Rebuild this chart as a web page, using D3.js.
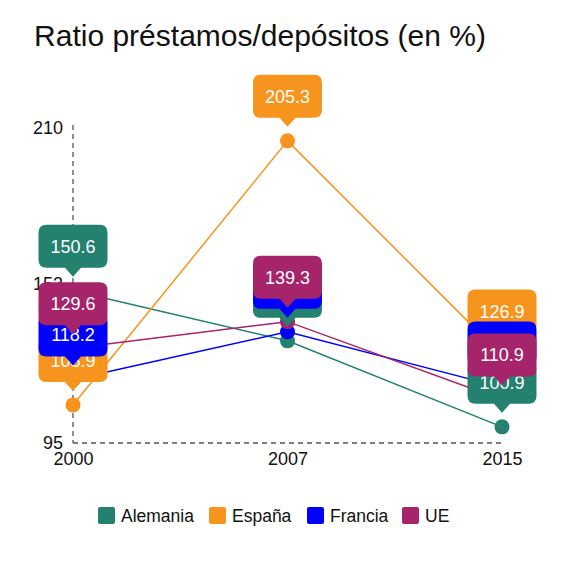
<!DOCTYPE html>
<html><head><meta charset="utf-8">
<script src="https://cdn.jsdelivr.net/npm/d3@7"></script>
<style>body{margin:0;background:#fff;font-family:"Liberation Sans",Arial,sans-serif;}</style>
</head><body>
<svg id="c" width="566" height="570"></svg>
<script>
const years = ["2000", "2007", "2015"];
const seriesNames = ["Alemania", "España", "Francia", "UE"];
const colors = ["#24806f", "#f7941d", "#0000ff", "#a6246a"];
const alemania = [150.6, 132.3, 100.9];
const espana = [108.9, 205.3, 126.9];
const francia = [118.2, 135.6, 115.3];
const ue = [129.6, 139.3, 110.9];
const yTicks = [95, 153, 210];
const title = "Ratio préstamos/depósitos (en %)";

const series = [alemania, espana, francia, ue].map((v, i) => ({name: seriesNames[i], color: colors[i], values: v}));

const svg = d3.select("#c");
const x = d3.scalePoint().domain(years).range([73, 502]);
const y = d3.scaleLinear().domain([95, 210]).range([443, 128]);

svg.append("text").attr("x", 260).attr("y", 46).attr("text-anchor", "middle")
  .attr("font-size", 30).attr("fill", "#111").text(title);

// axes
svg.append("line").attr("x1", x("2000")).attr("x2", x("2000")).attr("y1", y(210) - 3).attr("y2", y(95))
  .attr("stroke", "#555").attr("stroke-dasharray", "5,4").attr("stroke-width", 1.3);
svg.append("line").attr("x1", x("2000")).attr("x2", x("2015")).attr("y1", y(95)).attr("y2", y(95))
  .attr("stroke", "#555").attr("stroke-dasharray", "5,4").attr("stroke-width", 1.3);

const yAxis = svg.append("g").attr("transform", `translate(${x("2000")},0)`)
  .call(d3.axisLeft(y).tickValues(yTicks).tickSize(0).tickPadding(10));
yAxis.select(".domain").remove();
yAxis.selectAll("text").attr("font-size", 18).attr("fill", "#111").attr("font-family", "Liberation Sans, Arial, sans-serif");

const xAxis = svg.append("g").attr("transform", `translate(0,${y(95)})`)
  .call(d3.axisBottom(x).tickSize(0).tickPadding(9));
xAxis.select(".domain").remove();
xAxis.selectAll("text").attr("font-size", 18).attr("fill", "#111").attr("font-family", "Liberation Sans, Arial, sans-serif");

const line = d3.line().x((d, i) => x(years[i])).y(d => y(d));
series.forEach(s => {
  svg.append("path").datum(s.values).attr("d", line).attr("fill", "none")
    .attr("stroke", s.color).attr("stroke-width", 1.5);
});
series.forEach(s => {
  svg.selectAll(null).data(s.values).enter().append("circle")
    .attr("cx", (d, i) => x(years[i])).attr("cy", d => y(d)).attr("r", 7.5).attr("fill", s.color);
});

// labels
const bw = 69, bh = 43, pw = 8, ph = 9, gap = 14, r = 8;
function bubble(cx, tipY) {
  const l = cx - bw / 2, rt = cx + bw / 2, b = tipY - ph, t = b - bh;
  return `M${l + r},${t} H${rt - r} Q${rt},${t} ${rt},${t + r} V${b - r} Q${rt},${b} ${rt - r},${b} ` +
    `H${cx + pw} L${cx},${tipY} L${cx - pw},${b} H${l + r} Q${l},${b} ${l},${b - r} V${t + r} Q${l},${t} ${l + r},${t} Z`;
}
series.forEach(s => {
  s.values.forEach((v, i) => {
    const cx = x(years[i]), tip = y(v) - gap;
    svg.append("path").attr("d", bubble(cx, tip)).attr("fill", s.color);
    svg.append("text").attr("x", cx).attr("y", tip - ph - bh / 2 + 6.5).attr("text-anchor", "middle")
      .attr("font-size", 18).attr("fill", "#fff").text(v.toFixed(1));
  });
});

// legend
const legX = [98, 209, 307, 402];
series.forEach((s, i) => {
  svg.append("rect").attr("x", legX[i]).attr("y", 507).attr("width", 17).attr("height", 17).attr("rx", 2).attr("fill", s.color);
  svg.append("text").attr("x", legX[i] + 23).attr("y", 522).attr("font-size", 17.5).attr("fill", "#111").text(s.name);
});
</script>
</body></html>
